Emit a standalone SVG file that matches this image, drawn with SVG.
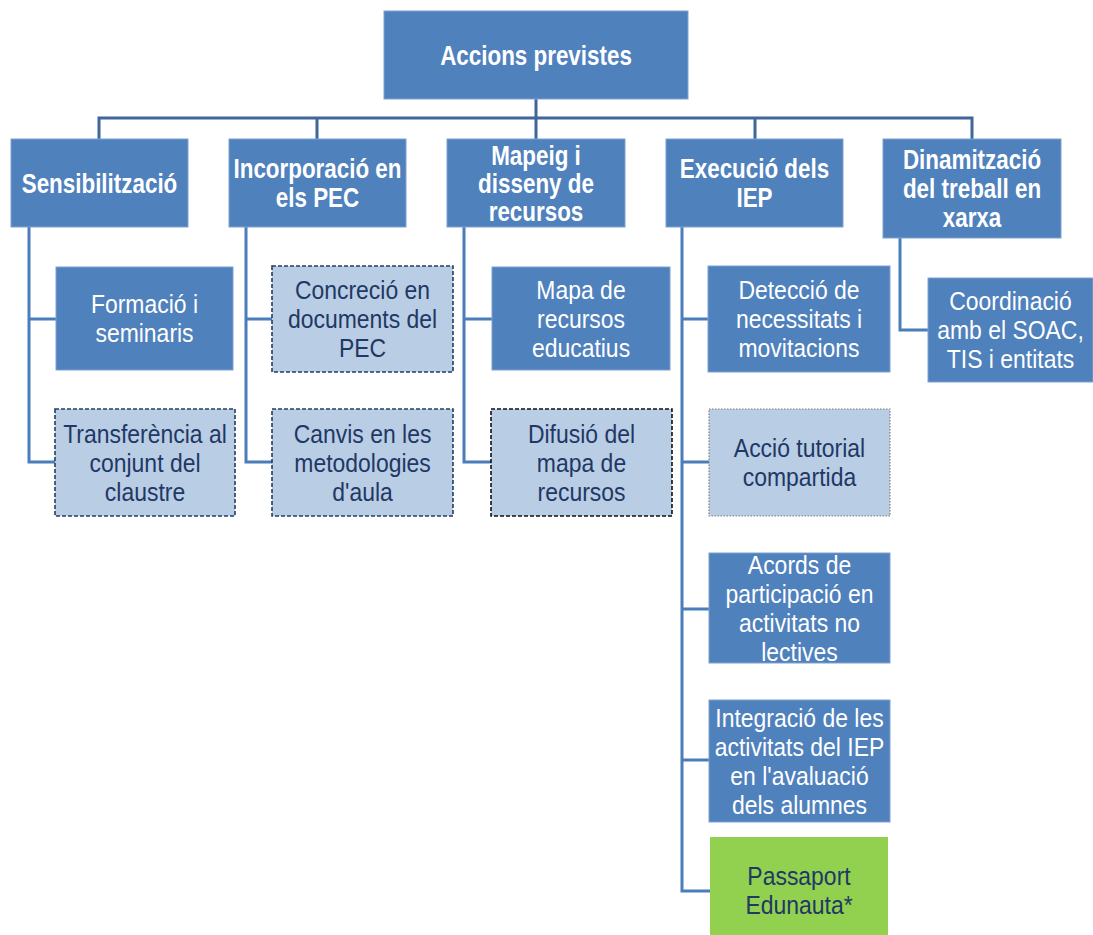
<svg xmlns="http://www.w3.org/2000/svg" width="1093" height="935" viewBox="0 0 1093 935">
  <style>
    .blue { fill: #4F81BD; stroke: #7FA2D2; stroke-width: 1; }
    .pale { fill: #B9CDE5; }
    .dash-navy { stroke: #243F60; stroke-width: 1.6; stroke-dasharray: 4 2; }
    .dash-black { stroke: #111111; stroke-width: 1.6; stroke-dasharray: 4 2; }
    .dot-grey { stroke: #7F7F7F; stroke-width: 1.2; stroke-dasharray: 1.5 1.5; }
    .green { fill: #92D050; }
    text { font-family: "Liberation Sans", Arial, sans-serif; text-anchor: middle; }
    .head { font-size: 27px; font-weight: bold; fill: #FFFFFF; }
    .item { font-size: 25.5px; fill: #FFFFFF; }
    .item-dark { font-size: 25.5px; fill: #1F3864; }
    .trunk { fill: none; stroke: #41679A; stroke-width: 3; }
    .branch { fill: none; stroke: #4A7DBA; stroke-width: 3; }
  </style>

  <!-- connectors -->
  <g id="connectors">
    <path class="trunk" d="M536,99 V139 M99,139 V118 H972 V139 M317,118 V139 M755,118 V139"/>
    <path class="branch" d="M29,227 V462 H55 M29,319 H56"/>
    <path class="branch" d="M246,227 V462 H272 M246,319 H272"/>
    <path class="branch" d="M464,227 V462 H491 M464,319 H492"/>
    <path class="branch" d="M682,227 V891 H710 M682,319 H708 M682,462 H709 M682,609 H709 M682,760 H709"/>
    <path class="branch" d="M900,238 V330 H928"/>
  </g>

  <!-- root (labels are narrowed horizontally around the box centre) -->
  <g id="accions">
    <rect class="blue" x="384" y="11" width="304" height="88"/>
    <g transform="translate(536,0) scale(0.83,1)">
      <text class="head" x="0" y="65">Accions previstes</text>
    </g>
  </g>

  <!-- first level -->
  <g id="sensibilitzacio">
    <rect class="blue" x="11" y="139" width="177" height="88"/>
    <g transform="translate(99.5,0) scale(0.83,1)">
      <text class="head" x="0" y="193">Sensibilització</text>
    </g>
  </g>
  <g id="incorporacio">
    <rect class="blue" x="229" y="139" width="177" height="88"/>
    <g transform="translate(317.5,0) scale(0.83,1)">
      <text class="head" x="0" y="178">Incorporació en</text>
      <text class="head" x="0" y="207">els PEC</text>
    </g>
  </g>
  <g id="mapeig">
    <rect class="blue" x="447" y="139" width="178" height="88"/>
    <g transform="translate(536,0) scale(0.83,1)">
      <text class="head" x="0" y="165">Mapeig i</text>
      <text class="head" x="0" y="193">disseny de</text>
      <text class="head" x="0" y="221">recursos</text>
    </g>
  </g>
  <g id="execucio">
    <rect class="blue" x="666" y="139" width="177" height="88"/>
    <g transform="translate(754.5,0) scale(0.83,1)">
      <text class="head" x="0" y="178">Execució dels</text>
      <text class="head" x="0" y="207">IEP</text>
    </g>
  </g>
  <g id="dinamitzacio">
    <rect class="blue" x="883" y="139" width="178" height="99"/>
    <g transform="translate(972,0) scale(0.83,1)">
      <text class="head" x="0" y="169">Dinamització</text>
      <text class="head" x="0" y="198">del treball en</text>
      <text class="head" x="0" y="227">xarxa</text>
    </g>
  </g>

  <!-- Sensibilització children -->
  <g id="formacio">
    <rect class="blue" x="56" y="267" width="177" height="103"/>
    <g transform="translate(144.5,0) scale(0.9,1)">
      <text class="item" x="0" y="313.5">Formació i</text>
      <text class="item" x="0" y="342.5">seminaris</text>
    </g>
  </g>
  <g id="transferencia">
    <rect class="pale dash-navy" x="55" y="409" width="180" height="107"/>
    <g transform="translate(145,0) scale(0.9,1)">
      <text class="item-dark" x="0" y="443">Transferència al</text>
      <text class="item-dark" x="0" y="472">conjunt del</text>
      <text class="item-dark" x="0" y="501">claustre</text>
    </g>
  </g>

  <!-- Incorporació children -->
  <g id="concrecio">
    <rect class="pale dash-navy" x="272" y="266" width="181" height="106"/>
    <g transform="translate(362.5,0) scale(0.9,1)">
      <text class="item-dark" x="0" y="299">Concreció en</text>
      <text class="item-dark" x="0" y="328">documents del</text>
      <text class="item-dark" x="0" y="357">PEC</text>
    </g>
  </g>
  <g id="canvis">
    <rect class="pale dash-navy" x="272" y="409" width="181" height="107"/>
    <g transform="translate(362.5,0) scale(0.9,1)">
      <text class="item-dark" x="0" y="443">Canvis en les</text>
      <text class="item-dark" x="0" y="472">metodologies</text>
      <text class="item-dark" x="0" y="501">d'aula</text>
    </g>
  </g>

  <!-- Mapeig children -->
  <g id="mapa">
    <rect class="blue" x="492" y="267" width="178" height="103"/>
    <g transform="translate(581,0) scale(0.9,1)">
      <text class="item" x="0" y="299">Mapa de</text>
      <text class="item" x="0" y="328">recursos</text>
      <text class="item" x="0" y="357">educatius</text>
    </g>
  </g>
  <g id="difusio">
    <rect class="pale dash-black" x="491" y="409" width="181" height="107"/>
    <g transform="translate(581.5,0) scale(0.9,1)">
      <text class="item-dark" x="0" y="443">Difusió del</text>
      <text class="item-dark" x="0" y="472">mapa de</text>
      <text class="item-dark" x="0" y="501">recursos</text>
    </g>
  </g>

  <!-- Execució children -->
  <g id="deteccio">
    <rect class="blue" x="708" y="266" width="182" height="106"/>
    <g transform="translate(799,0) scale(0.9,1)">
      <text class="item" x="0" y="299">Detecció de</text>
      <text class="item" x="0" y="328">necessitats i</text>
      <text class="item" x="0" y="357">movitacions</text>
    </g>
  </g>
  <g id="accio-tutorial">
    <rect class="pale dot-grey" x="709" y="409" width="181" height="107"/>
    <g transform="translate(799.5,0) scale(0.9,1)">
      <text class="item-dark" x="0" y="457.5">Acció tutorial</text>
      <text class="item-dark" x="0" y="486.5">compartida</text>
    </g>
  </g>
  <g id="acords">
    <rect class="blue" x="709" y="553" width="181" height="110"/>
    <g transform="translate(799.5,0) scale(0.9,1)">
      <text class="item" x="0" y="574">Acords de</text>
      <text class="item" x="0" y="603">participació en</text>
      <text class="item" x="0" y="632">activitats no</text>
      <text class="item" x="0" y="661">lectives</text>
    </g>
  </g>
  <g id="integracio">
    <rect class="blue" x="709" y="700" width="181" height="122"/>
    <g transform="translate(799.5,0) scale(0.9,1)">
      <text class="item" x="0" y="727">Integració de les</text>
      <text class="item" x="0" y="756">activitats del IEP</text>
      <text class="item" x="0" y="785">en l'avaluació</text>
      <text class="item" x="0" y="814">dels alumnes</text>
    </g>
  </g>
  <g id="passaport">
    <rect class="green" x="710" y="837" width="178" height="98"/>
    <g transform="translate(799,0) scale(0.9,1)">
      <text class="item-dark" x="0" y="885.5">Passaport</text>
      <text class="item-dark" x="0" y="914.5">Edunauta*</text>
    </g>
  </g>

  <!-- Dinamització child -->
  <g id="coordinacio">
    <rect class="blue" x="928" y="278" width="165" height="104"/>
    <g transform="translate(1010.5,0) scale(0.9,1)">
      <text class="item" x="0" y="310.5">Coordinació</text>
      <text class="item" x="0" y="339.5">amb el SOAC,</text>
      <text class="item" x="0" y="368.5">TIS i entitats</text>
    </g>
  </g>
</svg>
